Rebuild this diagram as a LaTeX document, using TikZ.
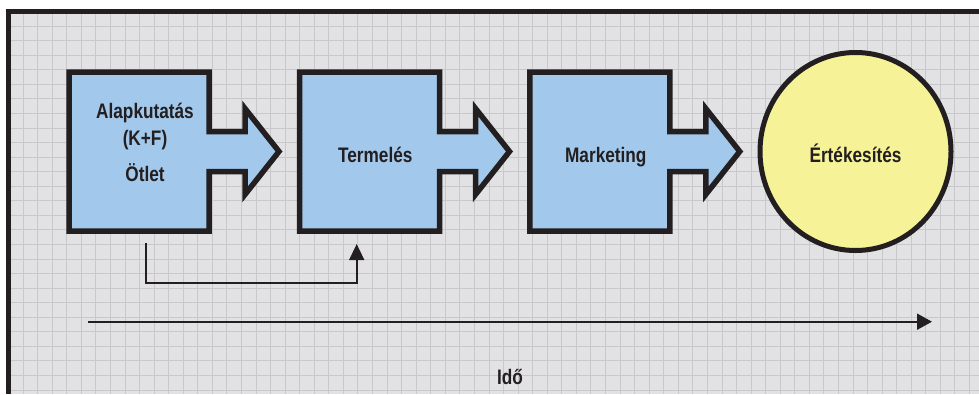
\documentclass[tikz,border=0pt]{standalone}
\usepackage{fontspec}
\usetikzlibrary{shapes.geometric,arrows.meta,calc}
\newfontfamily\lblfont{Liberation Sans}[FakeStretch=0.82]

\definecolor{inkdark}{HTML}{231F20}
\definecolor{paper}{HTML}{E2E2E4}
\definecolor{gridgray}{HTML}{C8C8CB}
\definecolor{boxblue}{HTML}{A2C8EB}
\definecolor{saleyellow}{HTML}{F6F297}

\tikzset{
  stagebox/.style={rectangle, inner sep=0pt, outer sep=0pt,
    minimum width=140pt, minimum height=159pt},
  stageline/.style={draw=inkdark, fill=boxblue, line width=5.5pt, line join=miter, miter limit=10},
  lbl/.style={inner sep=0pt, anchor=base, text=inkdark,
    font=\lblfont\bfseries\fontsize{21}{25}\selectfont},
  gridline/.style={draw=gridgray, line width=0.9pt},
  feedback/.style={draw=inkdark, line width=1.6pt,
    -{Triangle[length=16pt,width=15pt]}},
  timeline/.style={draw=inkdark, line width=2pt,
    -{Triangle[length=15pt,width=16pt]}},
}

\begin{document}
\begin{tikzpicture}[x=1pt,y=-1pt]
  % canvas and paper
  \useasboundingbox (0,0) rectangle (979,394);
  \fill[white] (0,0) rectangle (979,394);
  \fill[paper] (6,9) rectangle (979,394);

  % grid
  \begin{scope}
    \clip (6,9) rectangle (979,394);
    \foreach \i in {0,...,67} \draw[gridline] ({8.5+\i*14.56},9) -- ({8.5+\i*14.56},394);
    \foreach \j in {0,...,27} \draw[gridline] (6,{11.5+\j*14.56}) -- (979,{11.5+\j*14.56});
  \end{scope}

  % frame (top and left)
  \fill[inkdark] (6,9.3) rectangle (979,14);
  \fill[inkdark] (6,9.3) rectangle (11,394);

  % stage boxes
  \node[stagebox] (res)  at (139,151.5) {};
  \node[stagebox] (prod) at (369.5,151.5) {};
  \node[stagebox] (mkt)  at (599.75,151.5) {};

  % each box with its outgoing arrow as one outline
  \foreach \n in {res,prod,mkt}{
    \draw[stageline] (\n.north west) -- (\n.north east)
      -- ([yshift=20pt]\n.east)
      -- ([xshift=36pt,yshift=20pt]\n.east)
      -- ([xshift=36pt,yshift=43pt]\n.east)
      -- ([xshift=70pt]\n.east)
      -- ([xshift=36pt,yshift=-43pt]\n.east)
      -- ([xshift=36pt,yshift=-20pt]\n.east)
      -- ([yshift=-20pt]\n.east)
      -- (\n.south east) -- (\n.south west) -- cycle;
  }

  % sales ellipse
  \node[ellipse, draw=inkdark, fill=saleyellow, line width=5pt, inner sep=0pt,
        minimum width=191pt, minimum height=198pt] (sales) at (855.5,151.5) {};

  % labels
  \node[lbl] (resA) at (145,118.3) {Alapkutatás};
  \node[lbl] (resB) at (145,145.3) {(K+F)};
  \node[lbl] (resC) at (145,181.7) {Ötlet};
  \node[lbl] (prodT) at (375.3,162.6) {Termelés};
  \node[lbl] (mktT) at (605.8,162.6) {Marketing};
  \node[lbl] (salesT) at (855.5,162.8) {Értékesítés};

  % feedback from research to production
  \coordinate (fbStart) at ([xshift=6.7pt,yshift=-12.3pt]res.south);
  \coordinate (fbEnd) at ([xshift=-12.8pt,yshift=-13pt]prod.south);
  \draw[feedback] (fbStart) -- ([xshift=6.7pt,yshift=-51.7pt]res.south) -| (fbEnd);

  % time axis
  \coordinate (t0) at (88,321.7);
  \coordinate (t1) at (932,321.7);
  \draw[timeline] (t0) -- (t1);
  \node[lbl] (timeT) at (510,384) {Idő};
\end{tikzpicture}
\end{document}
